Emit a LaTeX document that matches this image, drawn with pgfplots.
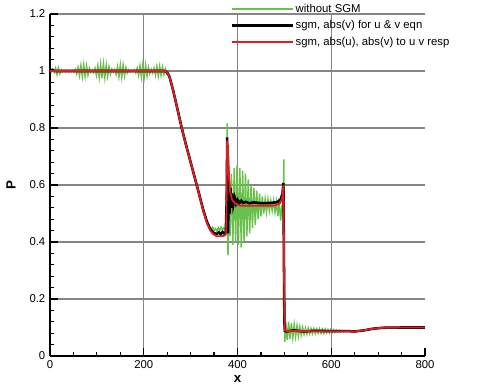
\documentclass[border=0pt]{standalone}
\usepackage{fontspec}
\setmainfont{Liberation Sans}
\usepackage{pgfplots}
\pgfplotsset{compat=1.18}

\definecolor{sgmgreen}{RGB}{105,192,75}
\definecolor{sgmred}{RGB}{222,28,38}

% pressure without SGM
\pgfplotstableread{
x P
0 1.004
3 0.996
6 1.004
9 0.995
12 1.010
15 0.988
18 1.011
21 0.991
24 1.004
27 0.997
30 1.003
33 0.997
36 1.003
39 0.997
42 1.003
45 0.997
48 1.003
51 0.996
54 1.006
57 0.990
60 1.013
63 0.984
66 1.019
69 0.980
72 1.021
75 0.981
78 1.018
81 0.986
84 1.010
87 0.995
90 1.004
93 0.994
96 1.010
99 0.985
102 1.018
105 0.978
108 1.024
111 0.975
114 1.025
117 0.977
120 1.022
123 0.982
126 1.015
129 0.989
132 1.007
135 0.996
138 1.006
141 0.988
144 1.015
147 0.980
150 1.021
153 0.978
156 1.020
159 0.983
162 1.012
165 0.993
168 1.004
171 0.997
174 1.003
177 0.997
180 1.004
183 0.994
186 1.010
189 0.985
192 1.018
195 0.979
198 1.022
201 0.978
204 1.020
207 0.983
210 1.013
213 0.991
216 1.006
219 0.993
222 1.010
225 0.986
228 1.016
231 0.983
234 1.017
237 0.985
240 1.014
243 0.988
246 1.008
249 0.990
252 0.992
255 0.975
260 0.950
263 0.930
268 0.895
273 0.860
281 0.805
290 0.745
299 0.690
306 0.645
313 0.603
320 0.560
327 0.515
334 0.475
338 0.460
341 0.452
344 0.445
347 0.452
350 0.440
353 0.447
356 0.438
359 0.450
362 0.440
365 0.452
368 0.442
371 0.450
374 0.440
376 0.445
377 0.600
378 0.816
379 0.380
380 0.354
381 0.700
384 0.420
387 0.640
390 0.390
393 0.660
396 0.400
399 0.670
402 0.390
405 0.660
408 0.380
411 0.650
414 0.400
417 0.640
420 0.420
423 0.620
426 0.430
429 0.600
432 0.450
435 0.590
438 0.460
441 0.580
444 0.480
447 0.570
450 0.490
453 0.560
456 0.500
459 0.550
462 0.505
465 0.550
468 0.510
471 0.545
474 0.510
477 0.545
480 0.505
483 0.540
486 0.490
489 0.540
492 0.475
495 0.530
497 0.500
499 0.690
500 0.300
501 0.050
503 0.120
506 0.056
509 0.120
512 0.060
515 0.115
518 0.065
521 0.110
524 0.068
527 0.106
530 0.070
533 0.102
536 0.074
539 0.100
542 0.076
545 0.098
548 0.077
551 0.097
554 0.078
557 0.096
560 0.079
563 0.096
566 0.079
569 0.095
572 0.080
575 0.095
578 0.080
581 0.094
584 0.080
587 0.094
590 0.081
593 0.093
596 0.081
599 0.093
602 0.082
605 0.092
608 0.083
611 0.091
614 0.083
617 0.091
620 0.084
623 0.090
626 0.085
629 0.089
632 0.085
635 0.088
640 0.087
650 0.086
670 0.090
690 0.096
710 0.099
750 0.100
800 0.100
}\nosgm

% SGM with abs(v) for u and v equations
\pgfplotstableread{
x P
0 1.000
5 1.004
10 1.000
245 1.000
250 0.995
255 0.980
263 0.930
270 0.880
281 0.800
290 0.742
299 0.686
313 0.600
327 0.512
335 0.470
342 0.445
348 0.433
352 0.430
356 0.428
360 0.434
364 0.427
368 0.435
372 0.429
375 0.436
377 0.550
378 0.767
379 0.500
380 0.430
381 0.620
383 0.500
385 0.590
387 0.520
389 0.570
391 0.530
394 0.555
397 0.535
400 0.548
404 0.537
408 0.545
412 0.537
418 0.541
425 0.536
435 0.539
450 0.536
470 0.537
485 0.540
492 0.550
496 0.570
498 0.607
499 0.350
500 0.120
501 0.088
505 0.086
520 0.090
540 0.086
560 0.088
640 0.087
650 0.086
670 0.090
690 0.096
710 0.099
750 0.100
800 0.100
}\sgmv

% SGM with abs(u), abs(v) for u and v respectively
\pgfplotstableread{
x P
0 1.000
245 1.000
250 0.995
255 0.980
263 0.930
270 0.880
281 0.800
290 0.740
299 0.686
313 0.600
327 0.510
335 0.465
342 0.440
348 0.428
356 0.420
365 0.420
373 0.423
376 0.430
377 0.600
378 0.756
380 0.700
382 0.630
384 0.580
388 0.550
395 0.535
405 0.528
420 0.527
450 0.527
480 0.528
490 0.535
495 0.550
498 0.600
499 0.400
500 0.150
501 0.090
505 0.088
560 0.087
630 0.087
650 0.086
670 0.090
690 0.096
710 0.099
750 0.100
800 0.100
}\sgmuv

\begin{document}
\begin{tikzpicture}
\begin{axis}[
  scale only axis,
  width=281.25pt, height=256.5pt,
  xmin=0, xmax=800, ymin=0, ymax=1.2,
  axis lines=left,
  axis line style={-, line width=1.4pt, black},
  tick align=inside,
  xtick={0,200,400,600,800},
  ytick={0,0.2,0.4,0.6,0.8,1,1.2},
  minor x tick num=3,
  minor y tick num=4,
  major tick length=6pt,
  minor tick length=3pt,
  tick style={black, line width=0.9pt},
  ymajorgrids=true,
  extra x ticks={200,400,600},
  extra x tick labels={},
  extra x tick style={xmajorgrids=true},
  grid style={black!48, line width=1pt},
  /pgf/number format/assume math mode=true,
  tick label style={font=\fontsize{8.5}{10}\selectfont},
  xlabel={\textbf{x}},
  ylabel={\textbf{P}},
  label style={font=\fontsize{10}{12}\selectfont},
  xlabel style={at={(axis description cs:0.5,-0.067)}, anchor=center},
  ylabel style={at={(axis description cs:-0.104,0.5)}, anchor=center},
  legend style={at={(0.47,1.045)}, anchor=north west, draw=none, fill=none,
    font=\fontsize{8.5}{10}\selectfont, row sep=0.8pt,
    nodes={inner sep=1pt, text height=7pt, text depth=2.5pt}},
  legend cell align=left,
  legend image code/.code={\draw[#1] (0pt,0pt) -- (46pt,0pt);},
]
\addplot[sgmgreen, line width=1.1pt] table[x=x,y=P] {\nosgm};
\addlegendentry{without SGM}
\addplot[black, line width=1.9pt] table[x=x,y=P] {\sgmv};
\addlegendentry{sgm, abs(v) for u \& v eqn}
\addplot[sgmred, line width=1.4pt] table[x=x,y=P] {\sgmuv};
\addlegendentry{sgm, abs(u), abs(v) to u v resp}
\coordinate (sw) at (rel axis cs:0,0);
\coordinate (ne) at (rel axis cs:1,1);
\end{axis}
\pgfresetboundingbox
\path ([xshift=-37.5pt,yshift=-25.5pt]sw) rectangle ([xshift=41.25pt,yshift=10.5pt]ne);
\end{tikzpicture}
\end{document}
